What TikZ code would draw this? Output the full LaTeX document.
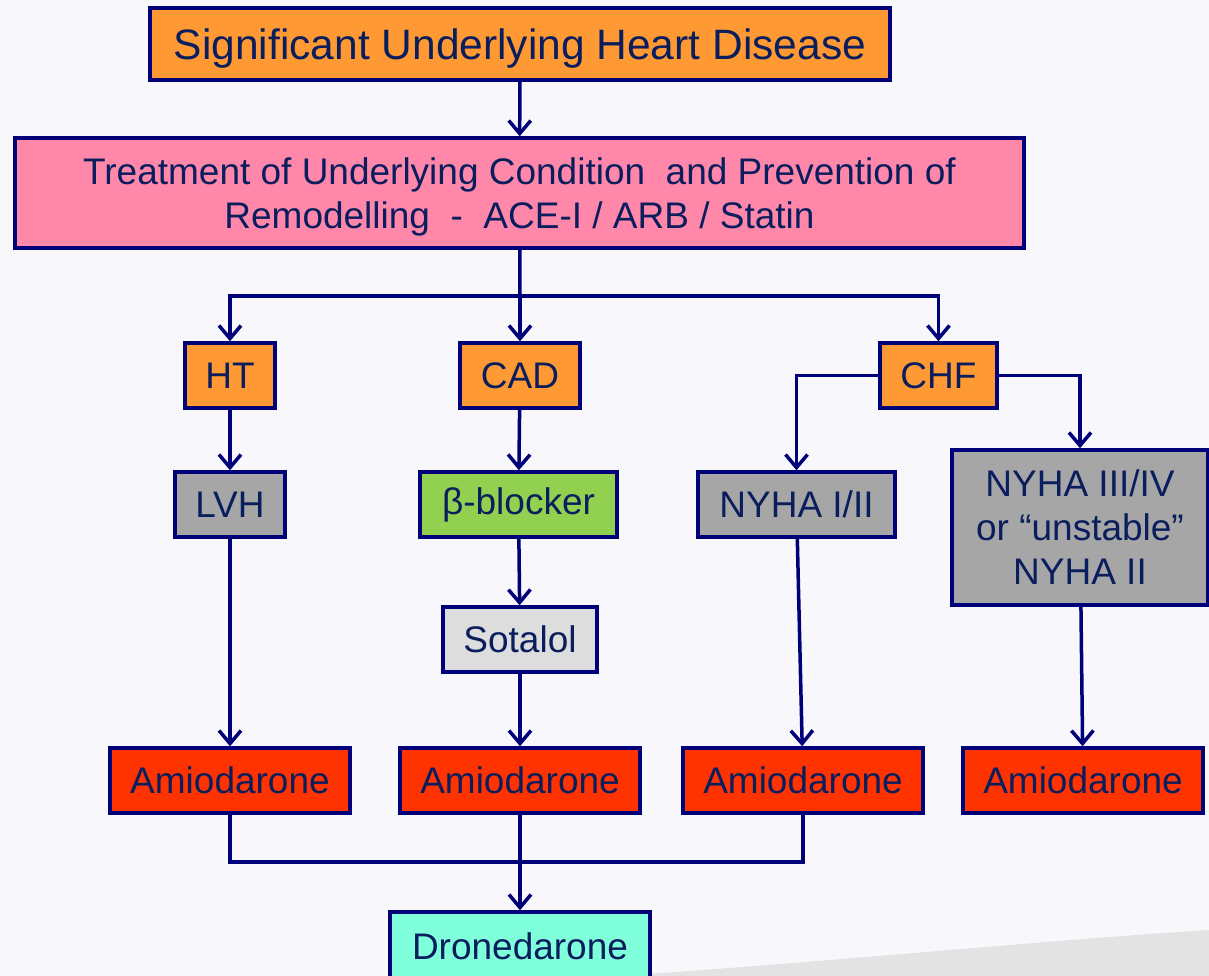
\documentclass[tikz,border=0pt]{standalone}
\usepackage{fontspec}
\setmainfont{Liberation Sans}
\usepackage{xcolor}
\usetikzlibrary{arrows.meta}

\definecolor{linecol}{HTML}{000078}
\definecolor{textcol}{HTML}{0A1E5E}
\definecolor{orangefill}{HTML}{FF9933}
\definecolor{pinkfill}{HTML}{FF88AA}
\definecolor{grayfill}{HTML}{A6A6A6}
\definecolor{greenfill}{HTML}{92D050}
\definecolor{lightfill}{HTML}{DDDDDD}
\definecolor{redfill}{HTML}{FF3300}
\definecolor{aquafill}{HTML}{80FFDB}
\definecolor{paper}{HTML}{F8F8FC}

\begin{document}
\begin{tikzpicture}[x=1pt, y=-1pt,
    box/.style={rectangle, draw=linecol, line width=3.5pt, text=textcol, align=center,
        inner sep=0pt, minimum height=65pt, font=\fontsize{37}{44}\selectfont},
    arrow/.style={-{Straight Barb[length=13pt, width=22pt, line width=3.5pt]}, draw=linecol, line width=3.5pt},
    link/.style={draw=linecol, line width=3.5pt}]

    % Page
    \useasboundingbox (0,0) rectangle (1209,976);
    \fill[paper] (0,0) rectangle (1209,976);
    \fill[gray!22] (620,976) .. controls (850,960) and (1050,940) .. (1209,930) -- (1209,976) -- cycle;

    % Top level
    \node[box, fill=orangefill, minimum width=740pt, minimum height=72pt, text depth=0pt,
        font=\fontsize{42.5}{50}\selectfont] (heart) at (520,44) {Significant Underlying Heart Disease};
    \node[box, fill=pinkfill, minimum width=1009pt, minimum height=110pt, text depth=0pt] (treat) at (519.5,193)
        {Treatment of Underlying Condition \ and Prevention of\\Remodelling \ - \ ACE-I / ARB / Statin};

    % Conditions
    \node[box, fill=orangefill, minimum width=90pt] (ht) at (230,375.5) {HT};
    \node[box, fill=orangefill, minimum width=120pt] (cad) at (520,375.5) {CAD};
    \node[box, fill=orangefill, minimum width=117pt] (chf) at (938.5,375.5) {CHF};

    % Second level
    \node[box, fill=grayfill, minimum width=110pt] (lvh) at (230,504.5) {LVH};
    \node[box, fill=greenfill, minimum width=197pt] (beta) at (518.5,504.5) {β-blocker};
    \node[box, fill=grayfill, minimum width=197pt] (nyhalow) at (796.5,504.5) {NYHA I/II};
    \node[box, fill=grayfill, minimum width=256pt, minimum height=155pt] (nyhahigh) at (1080,527.5)
        {NYHA III/IV\\or “unstable”\\NYHA II};
    \node[box, fill=lightfill, minimum width=154pt] (sotalol) at (520,639.5) {Sotalol};

    % Amiodarone row
    \node[box, fill=redfill, minimum width=240pt] (amioA) at (230,780.5) {Amiodarone};
    \node[box, fill=redfill, minimum width=240pt] (amioB) at (520,780.5) {Amiodarone};
    \node[box, fill=redfill, minimum width=240pt] (amioC) at (803,780.5) {Amiodarone};
    \node[box, fill=redfill, minimum width=240pt] (amioD) at (1083,780.5) {Amiodarone};

    % Final
    \node[box, fill=aquafill, minimum width=260pt, minimum height=68pt] (drone) at (520,946) {Dronedarone};

    % Branch points
    \coordinate (split) at (520,296);
    \coordinate (join) at (520,862);

    % Connect with arrows
    \draw[arrow] (heart) -- (treat);
    \draw[link] (treat) -- (split);
    \draw[arrow] (split) -| (ht);
    \draw[arrow] (split) -- (cad);
    \draw[arrow] (split) -| (chf);
    \draw[arrow] (ht) -- (lvh);
    \draw[arrow] (cad) -- (beta);
    \draw[arrow] (chf.west) -| (nyhalow);
    \draw[arrow] (chf.east) -| (nyhahigh);
    \draw[arrow] (beta) -- (sotalol);
    \draw[arrow] (lvh) -- (amioA);
    \draw[arrow] (sotalol) -- (amioB);
    \draw[arrow] (nyhalow) -- (amioC);
    \draw[arrow] (nyhahigh) -- (amioD);

    % Merge to Dronedarone
    \draw[link] (amioA) |- (join) -| (amioC);
    \draw[arrow] (amioB) -- (drone);
\end{tikzpicture}
\end{document}
